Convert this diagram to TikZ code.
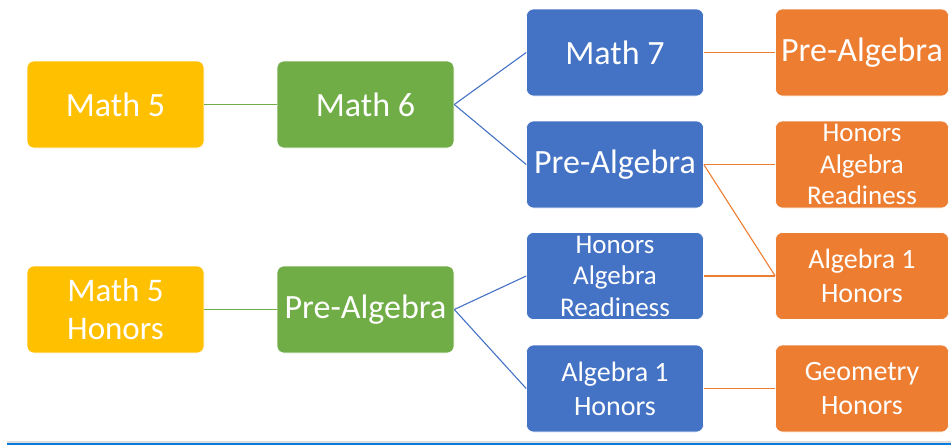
\documentclass[tikz,border=0pt]{standalone}
\usepackage{fontspec}
\setmainfont{Carlito}
\usepackage{tikz}
\usetikzlibrary{positioning}
\definecolor{gradeyellow}{HTML}{FFC000}
\definecolor{gradegreen}{HTML}{70AD47}
\definecolor{gradeblue}{HTML}{4472C4}
\definecolor{gradeorange}{HTML}{ED7D31}
\definecolor{rulegray}{HTML}{DDDDDD}
\definecolor{ruleblue}{HTML}{0A7ADB}
\tikzset{
  course/.style={draw=white, line width=0.6pt, rounded corners=7pt, text=white, minimum width=177pt, minimum height=87pt, inner sep=0pt, align=center, font=\fontsize{34}{40}\selectfont},
  course5/.style={course, fill=gradeyellow},
  course6/.style={course, fill=gradegreen},
  course7/.style={course, fill=gradeblue},
  course8/.style={course, fill=gradeorange, minimum width=173pt},
  twoline/.style={font=\fontsize{28}{34}\selectfont},
  threeline/.style={font=\fontsize{27}{31.5}\selectfont},
  link6/.style={draw=gradegreen, line width=1.1pt},
  link7/.style={draw=gradeblue, line width=1.1pt},
  link8/.style={draw=gradeorange, line width=1.1pt}
}

\begin{document}
\begin{tikzpicture}[x=1pt, y=-1pt]
  \useasboundingbox (0,0) rectangle (951,445);
  \node[course5] (mathfive) at (115.5,104.5) {Math 5};
  \node[course6] (mathsix) at (365.5,104.5) {Math 6};
  \node[course7] (mathseven) at (615,52.5) {Math 7};
  \node[course7] (prealgseven) at (615,164.5) {Pre-Algebra};
  \node[course8] (prealgeight) at (862,52.5) {Pre-Algebra};
  \node[course8, threeline] (hareight) at (862,164.5) {Honors\\Algebra\\Readiness};
  \node[course8, twoline] (algoneeight) at (862,276) {Algebra 1\\Honors};
  \node[course5, font=\fontsize{33}{38}\selectfont] (mathfiveh) at (115.5,309.5) {Math 5\\Honors};
  \node[course6] (prealgsix) at (365.5,309.5) {Pre-Algebra};
  \node[course7, threeline] (harseven) at (615,276) {Honors\\Algebra\\Readiness};
  \node[course7, twoline] (algoneseven) at (615,388.5) {Algebra 1\\Honors};
  \node[course8, twoline] (geomeight) at (862,388.5) {Geometry\\Honors};
  \draw[link6] (mathfive) -- (mathsix);
  \draw[link6] (mathfiveh) -- (prealgsix);
  \draw[link7] (mathsix.east) -- (mathseven.west);
  \draw[link7] (mathsix.east) -- (prealgseven.west);
  \draw[link7] (prealgsix.east) -- (harseven.west);
  \draw[link7] (prealgsix.east) -- (algoneseven.west);
  \draw[link8] (mathseven) -- (prealgeight);
  \draw[link8] (prealgseven.east) -- (hareight.west);
  \draw[link8] (prealgseven.east) -- (algoneeight.west);
  \draw[link8] (harseven.east) -- (algoneeight.west);
  \draw[link8] (algoneseven) -- (geomeight);
  \fill[rulegray] (7,440.5) rectangle (951,443);
  \fill[ruleblue] (7,443) rectangle (951,445);
\end{tikzpicture}
\end{document}
